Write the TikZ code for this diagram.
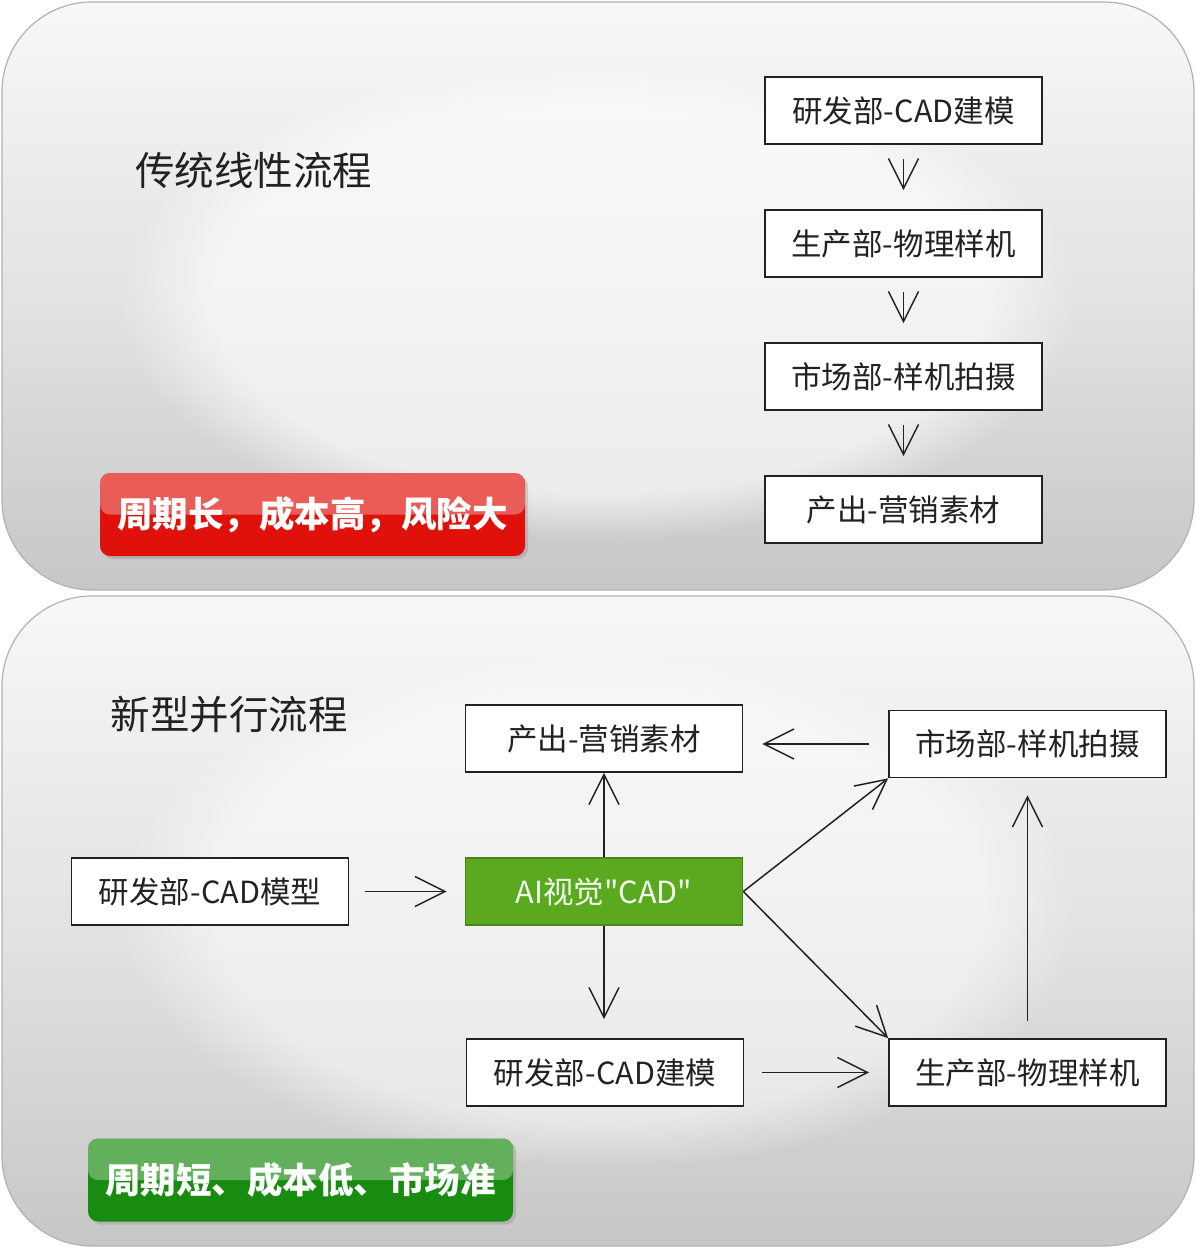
\documentclass[tikz,border=0pt]{standalone}
\usepackage{fontspec}
\setmainfont{Noto Sans CJK SC}[Ligatures=TeXOff]
\usepackage{xcolor}
\usepackage{tikz}
\usetikzlibrary{arrows.meta, positioning, shadows, fadings}

\definecolor{ink}{HTML}{222222}
\definecolor{aigreen}{HTML}{5AA91E}
\definecolor{badred}{HTML}{E0100A}
\definecolor{goodgreen}{HTML}{188C10}

\begin{document}
\begin{tikzpicture}[
    x=1pt, y=-1pt,
    every node/.style={text=ink},
    panel/.style={draw=gray!60, line width=1.2pt, rounded corners=90pt,
      top color=gray!6, bottom color=gray!44, middle color=gray!22},
    stepbox/.style={draw=ink, line width=1.7pt, fill=white, minimum width=277pt,
      minimum height=67pt, inner sep=0pt, font=\fontsize{30.5}{34}\selectfont},
    title/.style={font=\fontsize{39.5}{46}\selectfont},
    badge/.style={rounded corners=10pt, minimum width=425pt, minimum height=83pt,
      text=white, font=\fontsize{35.5}{40}\selectfont\bfseries,
      drop shadow={opacity=.3, shadow xshift=3pt, shadow yshift=-3pt},
      path picture={\fill[white, opacity=.32] (path picture bounding box.north west)
        rectangle (path picture bounding box.east);}},
    arr/.style={-{Straight Barb[length=30pt, width=30pt]}, line width=1.5pt, draw=ink},
  ]
  \useasboundingbox (0,0) rectangle (1196,1248);
  \fill[white] (0,0) rectangle (1196,1248);

  % panels
  \path[panel] (2,2) rectangle (1194,590);
  \path[panel] (2,596) rectangle (1194,1246);
  \fill[white, opacity=.6, path fading=circle with fuzzy edge 20 percent]
    (598,300) ellipse (480 and 240);
  \fill[white, opacity=.5, path fading=circle with fuzzy edge 20 percent]
    (598,910) ellipse (480 and 260);

  % traditional flow
  \node[title] (ttl1) at (253.5,170) {传统线性流程};
  \foreach \t [count=\i] in {研发部-CAD建模, 生产部-物理样机, 市场部-样机拍摄, 产出-营销素材}
    \node[stepbox] (t\i) at (903.5,{110.5+133*(\i-1)}) {\t};
  \foreach \i/\j in {1/2, 2/3, 3/4}
    \draw[arr, shorten <=14pt, shorten >=19pt] (t\i) -- (t\j);
  \node[badge, fill=badred] (bad) at (312.5,514.5) {周期长，成本高，风险大};

  % parallel flow
  \node[title] (ttl2) at (229,715) {新型并行流程};
  \node[stepbox] (out)  at (604,738.5)   {产出-营销素材};
  \node[stepbox] (mk)   at (1027.5,744)  {市场部-样机拍摄};
  \node[stepbox] (cadm) at (210,891.5)   {研发部-CAD模型};
  \node[stepbox, fill=aigreen, draw=aigreen!80!black, text=green!6] (ai) at (604,891.5) {AI视觉"CAD"};
  \node[stepbox] (cadb) at (605,1072.5)  {研发部-CAD建模};
  \node[stepbox] (prod) at (1027.5,1072.5) {生产部-物理样机};

  \draw[arr, shorten <=19pt, shorten >=19pt] (mk.west) -- (out.east |- mk.west);
  \draw[arr, shorten <=16pt, shorten >=18pt] (cadm) -- (ai);
  \draw[arr] (ai) -- (out);
  \draw[arr, shorten >=19pt] (ai.south) -- (ai.south |- cadb.north);
  \draw[arr] (ai.east) -- (mk.south west);
  \draw[arr] (ai.east) -- (prod.north west);
  \draw[arr, shorten <=18pt, shorten >=19pt] (cadb) -- (prod);
  \draw[arr, shorten <=17pt, shorten >=17pt] (prod) -- (mk);
  \node[badge, fill=goodgreen] (good) at (300.5,1180) {周期短、成本低、市场准};
\end{tikzpicture}
\end{document}
